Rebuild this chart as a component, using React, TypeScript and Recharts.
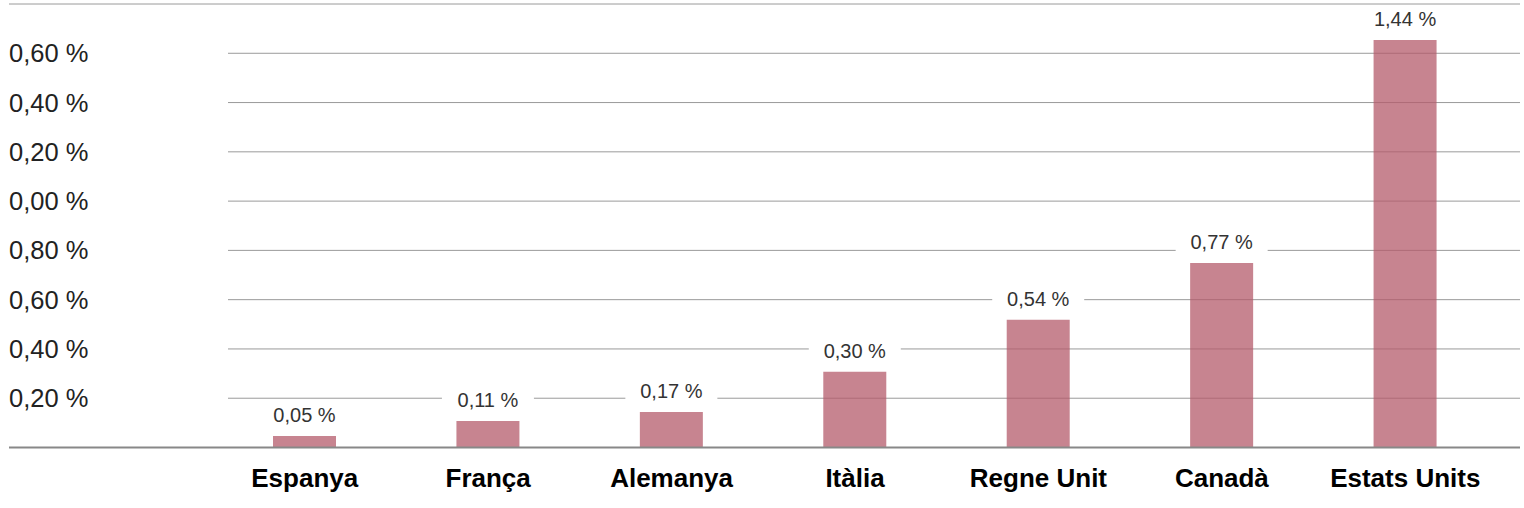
import React from 'react';
import { BarChart, Bar, XAxis, YAxis, CartesianGrid, LabelList } from 'recharts';

// countries on the x axis
const countries = ['Espanya', 'França', 'Alemanya', 'Itàlia', 'Regne Unit', 'Canadà', 'Estats Units'];
// bar heights as drawn in the picture
const barValues = [0.047, 0.108, 0.144, 0.307, 0.518, 0.749, 1.654];
// labels printed above the bars
const barLabels = ['0,05 %', '0,11 %', '0,17 %', '0,30 %', '0,54 %', '0,77 %', '1,44 %'];
// y axis ticks and the text shown next to them
const yTicks = [0, 0.2, 0.4, 0.6, 0.8, 1.0, 1.2, 1.4, 1.6, 1.8];
const yTickLabels = ['', '0,20 %', '0,40 %', '0,60 %', '0,80 %', '0,00 %', '0,20 %', '0,40 %', '0,60 %', ''];

const data = countries.map((name, i) => ({ name, value: barValues[i], label: barLabels[i] }));

const font = '"Liberation Sans", Arial, sans-serif';

const GridLine = (props: any) => {
    const { y1, x2, index } = props;
    if (index === 0) return <g />; // baseline drawn by the x axis
    const top = index === yTicks.length - 1;
    return <line x1={top ? props.x1 : 228} x2={x2} y1={y1} y2={y1} stroke="#9a9a9a" strokeWidth={1} />;
};

const YTick = (props: any) => {
    const { y, payload } = props;
    let idx = yTicks.findIndex(t => Math.abs(t - payload.value) < 1e-6);
    const text = yTickLabels[idx] || '';
    if (!text) return <g />;
    return (
        <text x={9} y={y + 9} textAnchor="start" fontSize={25.5} fill="#222" fontFamily={font}>{text}</text>
    );
};

const XTick = (props: any) => {
    const { x, y, payload } = props;
    return (
        <text x={x} y={y + 37} textAnchor="middle" fontSize={26} fontWeight="bold" fill="#000" fontFamily={font}>{payload.value}</text>
    );
};

const ValueLabel = (props: any) => {
    const { x, y, width, index } = props;
    const cx = x + width / 2;
    return (
        <g>
            <rect x={cx - 46} y={y - 34} width={92} height={26} fill="#fff" />
            <text x={cx} y={y - 14} textAnchor="middle" fontSize={20} fill="#333" fontFamily={font}>{barLabels[index]}</text>
        </g>
    );
};

export default function App() {
    return (
        <div style={{ position: 'absolute', left: 0, top: 0, background: '#fff' }}>
            <BarChart width={1524} height={508} data={data} margin={{ top: 4, right: 4, bottom: 0, left: 0 }} barSize={63}>
                <CartesianGrid vertical={false} horizontal={GridLine} />
                <XAxis dataKey="name" height={60.5} padding={{ left: 204, right: 23 }} tickLine={false} tickSize={0}
                    axisLine={{ stroke: '#888', strokeWidth: 2 }} tick={XTick} interval={0} />
                <YAxis width={9} domain={[0, 1.8]} ticks={yTicks} tickLine={false} axisLine={false}
                    tick={YTick} interval={0} />
                <Bar dataKey="value" fill="#b45b6b" fillOpacity={0.75} isAnimationActive={false}>
                    <LabelList dataKey="label" content={ValueLabel} />
                </Bar>
            </BarChart>
        </div>
    );
}
